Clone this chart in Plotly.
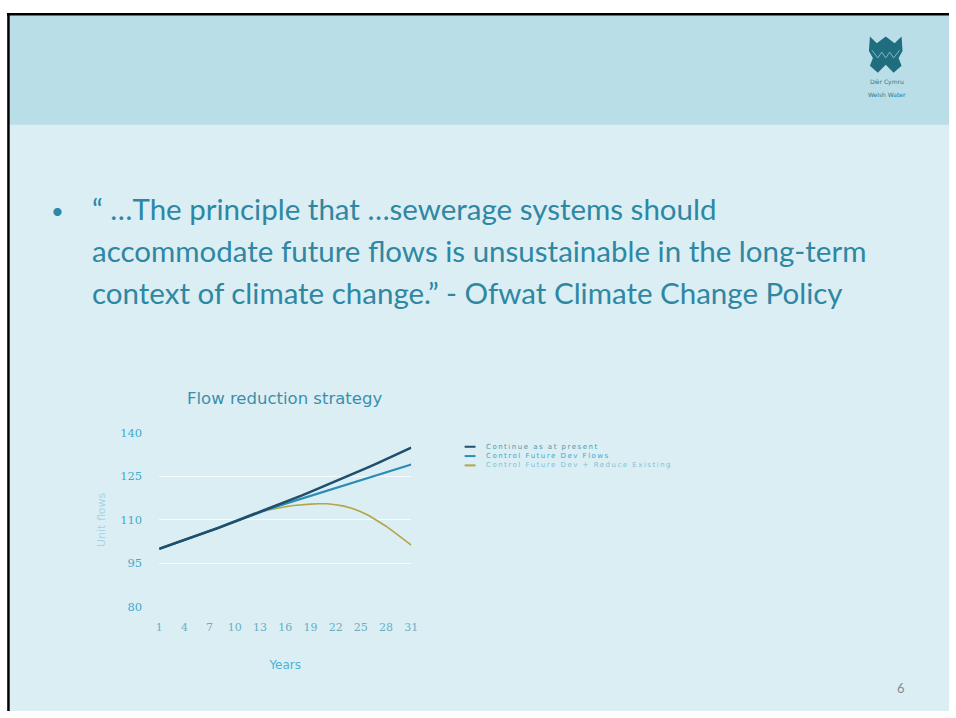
import plotly.graph_objects as go

W, H = 956, 718

# ---------------- data ----------------
years = [1, 2, 3, 4, 5, 6, 7, 8, 9, 10, 11, 12, 13, 14, 15, 16,
         17, 18, 19, 20, 21, 22, 23, 24, 25, 26, 27, 28, 29, 30, 31]
x_tick_labels = [1, 4, 7, 10, 13, 16, 19, 22, 25, 28, 31]
y_tick_labels = [80, 95, 110, 125, 140]

series_names = ["Continue as at present",
                "Control Future Dev Flows",
                "Control Future Dev + Reduce Existing"]

continue_vals = [100.0, 101.0, 102.0, 103.0, 104.1, 105.1, 106.2, 107.2, 108.3, 109.4,
                 110.5, 111.6, 112.7, 113.8, 115.0, 116.1, 117.3, 118.4, 119.6, 120.8,
                 122.0, 123.2, 124.5, 125.7, 127.0, 128.2, 129.5, 130.8, 132.1, 133.4, 134.8]
control_vals = [100.0, 101.0, 102.0, 103.0, 104.1, 105.1, 106.2, 107.2, 108.3, 109.4,
                110.5, 111.6, 112.7, 113.6, 114.6, 115.5, 116.5, 117.4, 118.3, 119.2,
                120.2, 121.1, 122.0, 122.9, 123.8, 124.7, 125.6, 126.5, 127.3, 128.2, 129.0]
reduce_vals = [100.0, 101.0, 102.0, 103.0, 104.1, 105.1, 106.2, 107.2, 108.3, 109.4,
               110.5, 111.6, 112.7, 113.4, 114.0, 114.5, 114.9, 115.2, 115.4, 115.5,
               115.5, 115.2, 114.7, 113.9, 112.8, 111.4, 109.7, 107.8, 105.7, 103.5, 101.3]

series_colors = ["#1f4f6c", "#2b8db6", "#b2a646"]
series_widths = [2.6, 2.2, 1.6]
legend_text_colors = ["#4f97ad", "#3aa7cf", "#7fc1d5"]

title_text = "Flow reduction strategy"
x_title = "Years"
y_title = "Unit flows"

quote_lines = ["\u201c \u2026The principle that \u2026sewerage systems should",
               "accommodate future flows is unsustainable in the long-term",
               "context of climate change.\u201d - Ofwat Climate Change Policy"]
page_number = "6"
logo_lines = ["D\u0175r Cymru", "Welsh Water"]


def px(x):
    return x / W


def py(y):
    return 1 - y / H


fig = go.Figure()

# draw order: reduce, control, continue (continue on top)
order = [2, 1, 0]
all_vals = [continue_vals, control_vals, reduce_vals]
for i in order:
    fig.add_trace(go.Scatter(
        x=years, y=all_vals[i], mode="lines", name=series_names[i],
        line=dict(color=series_colors[i], width=series_widths[i]),
        showlegend=False, hoverinfo="skip"))

shapes = []
# slide body
shapes.append(dict(type="rect", xref="paper", yref="paper", layer="below",
                   x0=px(4), x1=1, y0=0, y1=py(8),
                   fillcolor="#dbeef4", line=dict(width=0)))
# header band
shapes.append(dict(type="rect", xref="paper", yref="paper", layer="below",
                   x0=px(4), x1=1, y0=py(120), y1=py(8),
                   fillcolor="#b9dee7", line=dict(width=0)))
# black border top and left
shapes.append(dict(type="line", xref="paper", yref="paper", layer="above",
                   x0=px(3), x1=1, y0=py(7.5), y1=py(7.5),
                   line=dict(color="#000000", width=2.5)))
shapes.append(dict(type="line", xref="paper", yref="paper", layer="above",
                   x0=px(4.5), x1=px(4.5), y0=0, y1=py(6.5),
                   line=dict(color="#000000", width=2.5)))
# logo crown W
pts = [(876, 30), (883, 37), (892, 30), (901, 37), (908, 30), (909, 45), (905, 52),
       (908, 60), (900, 67), (892, 59), (884, 67), (876, 60), (879, 52), (875, 45)]
path = "M " + " L ".join(f"{px(a):.5f} {py(b):.5f}" for a, b in pts) + " Z"
shapes.append(dict(type="path", xref="paper", yref="paper", path=path,
                   fillcolor="#1f6d7e", line=dict(width=0)))
wave = [(878, 44), (884, 52), (888, 46), (892, 52), (896, 46), (900, 52), (906, 44)]
shapes.append(dict(type="path", xref="paper", yref="paper",
                   path="M " + " L ".join(f"{px(a):.5f} {py(b):.5f}" for a, b in wave),
                   line=dict(color="#7fb8c4", width=1)))

# compact legend drawn by hand, as in the reference
legend_rows = [448.5, 458, 467.5]
for i in range(3):
    shapes.append(dict(type="line", xref="paper", yref="paper",
                       x0=px(466), x1=px(477), y0=py(legend_rows[i]), y1=py(legend_rows[i]),
                       line=dict(color=series_colors[i], width=2)))

annotations = []
# bullet
annotations.append(dict(text="\u2022", x=px(54), y=py(208), xref="paper", yref="paper",
                        showarrow=False, xanchor="center", yanchor="middle",
                        font=dict(family="Lato", size=22, color="#2e87a3")))
line_y = [205, 248, 291]
for t, yy in zip(quote_lines, line_y):
    annotations.append(dict(text=t, x=px(87), y=py(yy), xref="paper", yref="paper",
                            showarrow=False, xanchor="left", yanchor="middle",
                            font=dict(family="Lato", size=29.5, color="#2e87a3")))
# chart title
annotations.append(dict(text=title_text, x=px(284), y=py(399), xref="paper", yref="paper",
                        showarrow=False, xanchor="center", yanchor="middle",
                        font=dict(family="DejaVu Sans", size=16.5, color="#3b8eab")))
# legend text (spaced out a little, like the stretched original)
for i in range(3):
    annotations.append(dict(text='<span style="letter-spacing:1.5px">' + series_names[i] + "</span>",
                            x=px(486), y=py(legend_rows[i]),
                            xref="paper", yref="paper", showarrow=False,
                            xanchor="left", yanchor="middle",
                            font=dict(family="DejaVu Sans", size=7,
                                      color=legend_text_colors[i])))
# page number
annotations.append(dict(text=page_number, x=px(907), y=py(695), xref="paper", yref="paper",
                        showarrow=False, xanchor="center", yanchor="middle",
                        font=dict(family="Lato", size=13, color="#8c8c8c")))
# logo text
for t, yy in zip(logo_lines, [77, 89]):
    annotations.append(dict(text=t, x=px(893), y=py(yy), xref="paper", yref="paper",
                            showarrow=False, xanchor="center", yanchor="middle",
                            font=dict(family="DejaVu Sans", size=6, color="#2b7a8c")))

fig.update_layout(
    width=W, height=H, autosize=False,
    margin=dict(l=0, r=0, t=0, b=0),
    paper_bgcolor="#ffffff",
    plot_bgcolor="#e7f4f8",
    shapes=shapes,
    annotations=annotations,
    showlegend=False,
    xaxis=dict(domain=[px(157), px(412)], range=[1, 31],
               tickvals=x_tick_labels, ticktext=[str(v) for v in x_tick_labels],
               showgrid=False, zeroline=False, showline=False, ticks="",
               tickfont=dict(family="DejaVu Serif", size=11, color="#6aaec4"),
               ticklabelstandoff=12,
               title=dict(text=x_title, standoff=27,
                          font=dict(family="DejaVu Sans", size=12, color="#4ab3d6"))),
    yaxis=dict(domain=[py(612), py(434)], range=[80, 140],
               tickvals=y_tick_labels, ticktext=[str(v) for v in y_tick_labels],
               showgrid=True, gridcolor="#f6fbfd", gridwidth=1,
               zeroline=False, showline=False, ticks="",
               tickfont=dict(family="DejaVu Serif", size=11.5, color="#43a9cc"),
               ticklabelstandoff=16,
               title=dict(text=y_title, standoff=12,
                          font=dict(family="DejaVu Sans", size=11, color="#a6d6e5"))),
)

# drop the browser's default 8px body margin so the 956x718 figure fills the page
fig.write_html("out.html", config={"displayModeBar": False},
               post_script="document.body.style.margin='0';")
